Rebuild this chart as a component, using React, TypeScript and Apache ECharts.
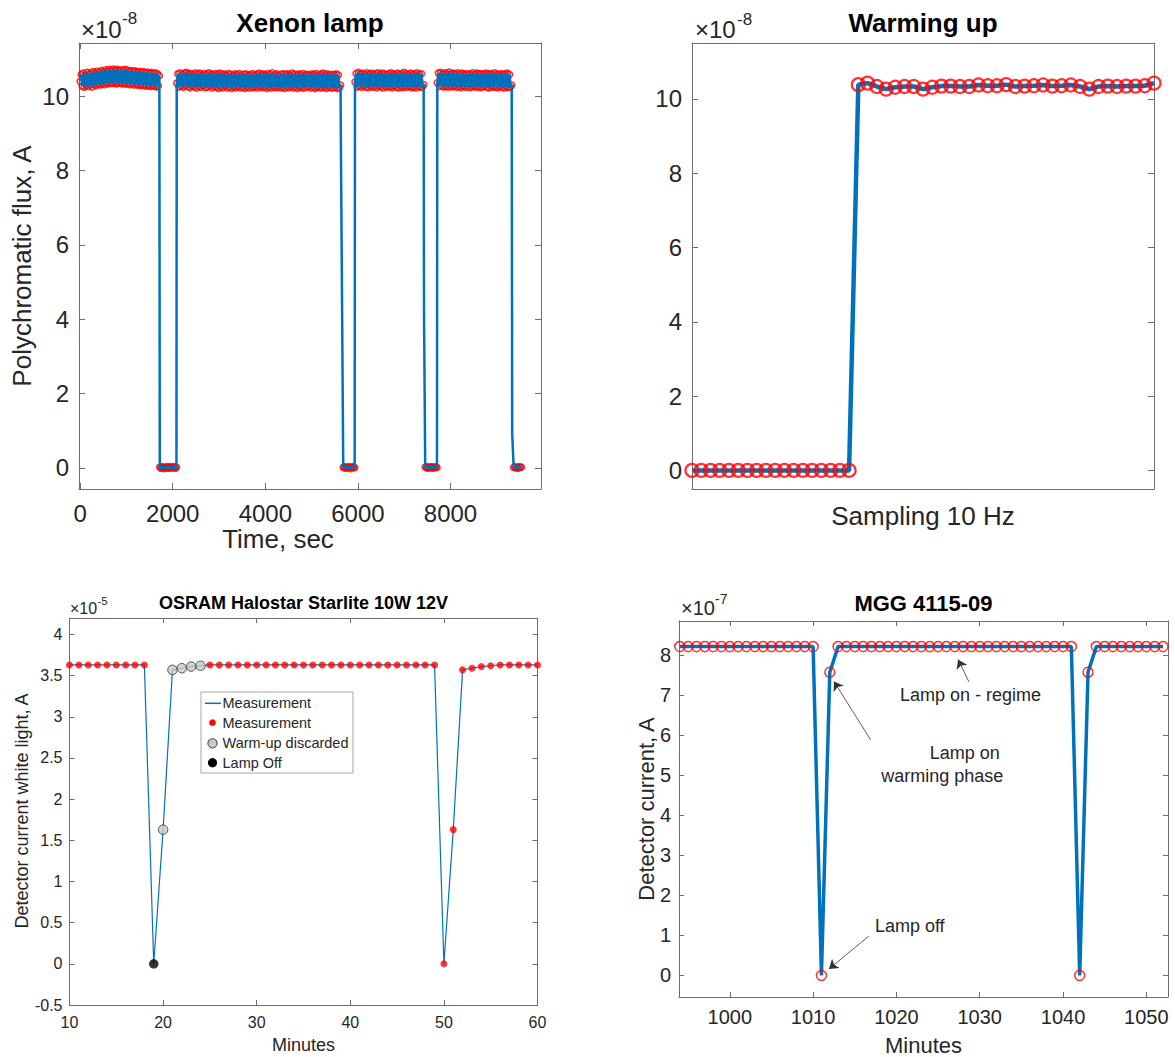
import React, { useEffect, useRef } from 'react';
import * as echarts from 'echarts';

const FONT = '"Liberation Sans", Arial, Helvetica, sans-serif';
const BLUE = '#0072BD';
const RED = '#FF0000';
const AX = '#6e6e6e';
const TXT = '#262626';

// ---------- Panel 1: Xenon lamp (time in s, flux in 1e-8 A) ----------
const xenonOnStart = [0, 2086, 5937, 7715];
const xenonOnEnd = [1711, 5625, 7420, 9322];
const xenonOn1 = [
  10.40, 10.58, 10.27, 10.62, 10.24, 10.56, 10.29, 10.64, 10.26, 10.60,
  10.30, 10.63, 10.25, 10.66, 10.31, 10.61, 10.28, 10.67, 10.32, 10.64,
  10.30, 10.69, 10.34, 10.66, 10.31, 10.71, 10.35, 10.68, 10.33, 10.72,
  10.36, 10.69, 10.34, 10.73, 10.37, 10.70, 10.33, 10.72, 10.35, 10.68,
  10.36, 10.71, 10.33, 10.69, 10.35, 10.72, 10.32, 10.70, 10.34, 10.67,
  10.31, 10.69, 10.33, 10.66, 10.30, 10.68, 10.32, 10.65, 10.29, 10.67,
  10.31, 10.64, 10.28, 10.66, 10.30, 10.63, 10.27, 10.65, 10.29, 10.62,
  10.26, 10.64, 10.28, 10.61, 10.27, 10.63, 10.25, 10.60, 10.28, 10.55,
];
const xenonOn2 = [
  10.35, 10.60, 10.25, 10.63, 10.27, 10.59, 10.24, 10.62, 10.28, 10.64,
  10.26, 10.60, 10.23, 10.61, 10.27, 10.58, 10.25, 10.63, 10.22, 10.60,
  10.26, 10.62, 10.24, 10.57, 10.28, 10.61, 10.23, 10.59, 10.25, 10.63,
  10.27, 10.60, 10.22, 10.58, 10.26, 10.61, 10.24, 10.59, 10.21, 10.62,
  10.25, 10.58, 10.23, 10.60, 10.27, 10.57, 10.22, 10.61, 10.24, 10.59,
  10.21, 10.56, 10.25, 10.60, 10.23, 10.58, 10.26, 10.61, 10.22, 10.57,
  10.24, 10.59, 10.21, 10.60, 10.25, 10.56, 10.22, 10.58, 10.24, 10.61,
  10.23, 10.57, 10.25, 10.59, 10.22, 10.62, 10.26, 10.58, 10.23, 10.60,
  10.25, 10.57, 10.21, 10.61, 10.24, 10.59, 10.22, 10.63, 10.26, 10.58,
  10.23, 10.60, 10.25, 10.56, 10.22, 10.59, 10.24, 10.61, 10.21, 10.58,
  10.25, 10.60, 10.23, 10.57, 10.26, 10.62, 10.22, 10.59, 10.24, 10.57,
  10.21, 10.60, 10.25, 10.58, 10.23, 10.61, 10.22, 10.57, 10.24, 10.59,
  10.26, 10.56, 10.22, 10.60, 10.24, 10.58, 10.21, 10.61, 10.25, 10.57,
  10.23, 10.59, 10.22, 10.62, 10.24, 10.58, 10.21, 10.60, 10.25, 10.57,
  10.23, 10.59, 10.22, 10.58, 10.24, 10.60, 10.21, 10.57, 10.23, 10.30,
];
const xenonOn3 = [
  10.38, 10.61, 10.25, 10.64, 10.27, 10.60, 10.24, 10.62, 10.28, 10.59,
  10.25, 10.63, 10.23, 10.60, 10.27, 10.62, 10.24, 10.58, 10.26, 10.61,
  10.23, 10.63, 10.27, 10.59, 10.25, 10.62, 10.22, 10.60, 10.26, 10.58,
  10.24, 10.61, 10.26, 10.63, 10.23, 10.60, 10.27, 10.58, 10.24, 10.62,
  10.22, 10.59, 10.25, 10.61, 10.23, 10.64, 10.26, 10.60, 10.24, 10.58,
  10.27, 10.62, 10.23, 10.59, 10.25, 10.61, 10.22, 10.63, 10.26, 10.59,
  10.24, 10.60, 10.25, 10.31,
];
const xenonOn4 = [
  10.36, 10.62, 10.26, 10.64, 10.28, 10.60, 10.25, 10.63, 10.27, 10.61,
  10.24, 10.65, 10.28, 10.60, 10.25, 10.62, 10.27, 10.59, 10.24, 10.63,
  10.26, 10.60, 10.23, 10.62, 10.27, 10.58, 10.24, 10.61, 10.26, 10.59,
  10.23, 10.60, 10.25, 10.63, 10.27, 10.59, 10.24, 10.62, 10.26, 10.60,
  10.23, 10.61, 10.25, 10.58, 10.27, 10.62, 10.24, 10.60, 10.22, 10.61,
  10.26, 10.59, 10.24, 10.63, 10.25, 10.60, 10.23, 10.58, 10.26, 10.61,
  10.24, 10.59, 10.22, 10.60, 10.25, 10.62, 10.23, 10.58, 10.25, 10.30,
];
const xenonOn = [xenonOn1, xenonOn2, xenonOn3, xenonOn4];
const xenonDropTime: (number | null)[] = [null, 5630, 7428, 9333];
const xenonDropValue: (number | null)[] = [null, 9.17, 4.15, 0.9];
const xenonOffStart = [1720, 5683, 7454, 9365];
const xenonOffEnd = [2080, 5930, 7708, 9530];
const xenonOff1 = [0.02, -0.01, 0.03, 0.01, -0.02, 0.02, 0.0, 0.03, -0.01, 0.01, 0.03, -0.01, 0.02, 0.0, 0.03, 0.01, -0.01, 0.02];
const xenonOff2 = [0.01, 0.03, -0.01, 0.02, 0.0, 0.03, 0.01, -0.02, 0.02, 0.03, 0.0, 0.01];
const xenonOff3 = [0.02, 0.0, 0.03, -0.01, 0.02, 0.01, 0.03, -0.01, 0.02, 0.0, 0.03, 0.01];
const xenonOff4 = [0.01, 0.03, 0.0, 0.02, -0.01, 0.03, 0.01, 0.02];
const xenonOff = [xenonOff1, xenonOff2, xenonOff3, xenonOff4];

// ---------- Panel 2: Warming up (sample index, flux in 1e-8 A) ----------
const warmFlux = [
  0, 0, 0, 0, 0, 0, 0, 0, 0, 0, 0, 0, 0, 0, 0, 0, 0, 0,
  10.38, 10.42, 10.33, 10.26, 10.31, 10.33, 10.33, 10.26, 10.31, 10.34, 10.34,
  10.33, 10.33, 10.37, 10.35, 10.35, 10.38, 10.33, 10.34, 10.35, 10.37, 10.34,
  10.35, 10.37, 10.33, 10.26, 10.33, 10.34, 10.33, 10.34, 10.34, 10.35, 10.42,
];

// ---------- Panel 3: OSRAM Halostar (minutes, current in 1e-5 A) ----------
const osramMinutes = [10, 11, 12, 13, 14, 15, 16, 17, 18, 19, 20, 21, 22, 23, 24, 25, 26, 27, 28, 29, 30, 31, 32, 33, 34, 35, 36, 37, 38, 39, 40, 41, 42, 43, 44, 45, 46, 47, 48, 49, 50, 51, 52, 53, 54, 55, 56, 57, 58, 59, 60];
const osramCurrent = [3.63, 3.63, 3.63, 3.63, 3.63, 3.63, 3.63, 3.63, 3.63, 0, 1.63, 3.57, 3.59, 3.61, 3.62, 3.63, 3.63, 3.63, 3.63, 3.63, 3.63, 3.63, 3.63, 3.63, 3.63, 3.63, 3.63, 3.63, 3.63, 3.63, 3.63, 3.63, 3.63, 3.63, 3.63, 3.63, 3.63, 3.63, 3.63, 3.63, 0, 1.63, 3.57, 3.59, 3.61, 3.62, 3.63, 3.63, 3.63, 3.63, 3.63];
const osramWarmupMinutes = [20, 21, 22, 23, 24];
const osramLampOffMinutes = [19];
const osramLegend = ['Measurement', 'Measurement', 'Warm-up discarded', 'Lamp Off'];

// ---------- Panel 4: MGG 4115-09 (minutes, current in 1e-7 A) ----------
const mggMinutes = [994, 995, 996, 997, 998, 999, 1000, 1001, 1002, 1003, 1004, 1005, 1006, 1007, 1008, 1009, 1010, 1011, 1012, 1013, 1014, 1015, 1016, 1017, 1018, 1019, 1020, 1021, 1022, 1023, 1024, 1025, 1026, 1027, 1028, 1029, 1030, 1031, 1032, 1033, 1034, 1035, 1036, 1037, 1038, 1039, 1040, 1041, 1042, 1043, 1044, 1045, 1046, 1047, 1048, 1049, 1050, 1051, 1052];
const mggCurrent = [8.22, 8.22, 8.22, 8.22, 8.22, 8.22, 8.22, 8.22, 8.22, 8.22, 8.22, 8.22, 8.22, 8.22, 8.22, 8.22, 8.22, 0, 7.58, 8.22, 8.22, 8.22, 8.22, 8.22, 8.22, 8.22, 8.22, 8.22, 8.22, 8.22, 8.22, 8.22, 8.22, 8.22, 8.22, 8.22, 8.22, 8.22, 8.22, 8.22, 8.22, 8.22, 8.22, 8.22, 8.22, 8.22, 8.22, 8.22, 0, 7.58, 8.22, 8.22, 8.22, 8.22, 8.22, 8.22, 8.22, 8.22, 8.22];
const mggNoteTexts = ['Lamp on - regime', 'Lamp on', 'warming phase', 'Lamp off'];
const mggNoteAt = [[1028.9, 7.0], [1028.2, 5.56], [1025.5, 4.98], [1021.6, 1.24]];
const mggArrowFrom = [[1028.7, 7.34], [1016.9, 5.89], [1016.7, 0.985]];
const mggArrowTo = [[1027.4, 7.9], [1012.5, 7.35], [1011.9, 0.16]];

// ---------- build series data ----------
function spread(start: number, end: number, vals: number[]) {
  const n = vals.length;
  return vals.map((v, i) => [n === 1 ? start : start + ((end - start) * i) / (n - 1), v]);
}
const xenonData: number[][] = [];
const xenonMarks: number[][] = [];
for (let k = 0; k < xenonOn.length; k++) {
  const on = spread(xenonOnStart[k], xenonOnEnd[k], xenonOn[k]);
  const off = spread(xenonOffStart[k], xenonOffEnd[k], xenonOff[k]);
  xenonData.push(...on);
  xenonMarks.push(...on);
  if (xenonDropTime[k] !== null) xenonData.push([xenonDropTime[k] as number, xenonDropValue[k] as number]);
  xenonData.push(...off);
  xenonMarks.push(...off);
}
const warmData = warmFlux.map((v, i) => [i, v]);
const osramData = osramMinutes.map((m, i) => [m, osramCurrent[i]]);
const osramRed = osramData.filter((d) => !osramWarmupMinutes.includes(d[0]) && !osramLampOffMinutes.includes(d[0]));
const osramGray = osramData.filter((d) => osramWarmupMinutes.includes(d[0]));
const osramBlack = osramData.filter((d) => osramLampOffMinutes.includes(d[0]));
const mggData = mggMinutes.map((m, i) => [m, mggCurrent[i]]);

// ---------- axes ----------
type AxOpt = {
  grid: number; pos: string; min: number; max: number; interval?: number; split?: number;
  labels?: boolean; fs?: number; margin?: number; showMin?: boolean; showMax?: boolean;
  ticks?: boolean; tickLen?: number;
};
function valAxis(o: AxOpt) {
  const a: any = {
    type: 'value',
    gridIndex: o.grid,
    position: o.pos,
    min: o.min,
    max: o.max,
    splitNumber: o.split ?? 5,
    axisLine: { show: true, onZero: false, lineStyle: { color: AX, width: 1 } },
    axisTick: { show: o.ticks !== false, inside: true, length: o.tickLen ?? 6, lineStyle: { color: AX, width: 1 } },
    axisLabel: o.labels
      ? {
          show: true,
          fontSize: o.fs,
          fontFamily: FONT,
          color: TXT,
          margin: o.margin,
          showMinLabel: o.showMin ?? false,
          showMaxLabel: o.showMax ?? false,
          formatter: (v: number) => String(Math.round(v * 1000) / 1000),
        }
      : { show: false },
    splitLine: { show: false },
  };
  if (o.interval) a.interval = o.interval;
  return a;
}

const xAxes = [
  valAxis({ grid: 0, pos: 'bottom', min: -25, max: 9955, labels: true, fs: 24, margin: 12 }),
  valAxis({ grid: 0, pos: 'top', min: -25, max: 9955 }),
  valAxis({ grid: 1, pos: 'bottom', min: 0, max: 50, ticks: false }),
  valAxis({ grid: 1, pos: 'top', min: 0, max: 50, ticks: false }),
  valAxis({ grid: 2, pos: 'bottom', min: 10, max: 60, interval: 10, labels: true, fs: 16, margin: 9, showMin: true, showMax: true, tickLen: 5 }),
  valAxis({ grid: 2, pos: 'top', min: 10, max: 60, interval: 10, tickLen: 5 }),
  valAxis({ grid: 3, pos: 'bottom', min: 993.9, max: 1052.6, labels: true, fs: 20, margin: 10, tickLen: 5 }),
  valAxis({ grid: 3, pos: 'top', min: 993.9, max: 1052.6, tickLen: 5 }),
];
const yAxes = [
  valAxis({ grid: 0, pos: 'left', min: -0.57, max: 11.43, labels: true, fs: 24, margin: 10 }),
  valAxis({ grid: 0, pos: 'right', min: -0.57, max: 11.43 }),
  valAxis({ grid: 1, pos: 'left', min: -0.5, max: 11.5, labels: true, fs: 24, margin: 10 }),
  valAxis({ grid: 1, pos: 'right', min: -0.5, max: 11.5 }),
  valAxis({ grid: 2, pos: 'left', min: -0.5, max: 4.2, interval: 0.5, labels: true, fs: 16, margin: 7, showMin: true, tickLen: 5 }),
  valAxis({ grid: 2, pos: 'right', min: -0.5, max: 4.2, interval: 0.5, tickLen: 5 }),
  valAxis({ grid: 3, pos: 'left', min: -0.54, max: 8.86, split: 9, labels: true, fs: 20, margin: 8, tickLen: 5 }),
  valAxis({ grid: 3, pos: 'right', min: -0.54, max: 8.86, split: 9, tickLen: 5 }),
];

// ---------- graphic helpers ----------
function txt(text: string, x: number, y: number, size: number, extra: any = {}) {
  const align = extra.align ?? 'center';
  return {
    type: 'text',
    x,
    y,
    rotation: extra.rotation ?? 0,
    silent: true,
    z: 50,
    style: {
      text,
      fontSize: size,
      fontFamily: FONT,
      fontWeight: extra.bold ? 'bold' : 'normal',
      fill: extra.fill ?? TXT,
      align,
      textAlign: align,
      verticalAlign: 'middle',
      textVerticalAlign: 'middle',
    },
  };
}

const graphics: any[] = [
  // titles
  txt('Xenon lamp', 310, 23, 26, { bold: true, fill: '#000' }),
  txt('Warming up', 923, 23, 26, { bold: true, fill: '#000' }),
  txt('OSRAM Halostar Starlite 10W 12V', 303.5, 603, 18, { bold: true, fill: '#000' }),
  txt('MGG 4115-09', 923.5, 603, 22, { bold: true, fill: '#000' }),
  // exponents
  txt('×10', 81, 29, 24, { align: 'left' }),
  txt('-8', 122, 18, 17, { align: 'left' }),
  txt('×10', 695, 29, 24, { align: 'left' }),
  txt('-8', 737, 19, 17, { align: 'left' }),
  txt('×10', 70, 608, 16, { align: 'left' }),
  txt('-5', 97.5, 601, 11.5, { align: 'left' }),
  txt('×10', 681, 608, 20, { align: 'left' }),
  txt('-7', 715, 599, 14, { align: 'left' }),
  // axis names
  txt('Polychromatic flux, A', 22, 266, 26, { rotation: Math.PI / 2 }),
  txt('Time, sec', 278, 539, 26),
  txt('Sampling 10 Hz', 923, 516, 26),
  txt('Detector current white light, A', 22, 811, 18, { rotation: Math.PI / 2 }),
  txt('Minutes', 303.5, 1045, 18),
  txt('Detector current, A', 646, 809, 22, { rotation: Math.PI / 2 }),
  txt('Minutes', 923.5, 1045, 22),
  // legend of panel 3
  {
    type: 'rect',
    silent: true,
    z: 40,
    shape: { x: 201, y: 692, width: 152, height: 81 },
    style: { fill: '#ffffff', stroke: '#a8a8a8', lineWidth: 1 },
  },
  {
    type: 'line',
    silent: true,
    z: 50,
    shape: { x1: 205, y1: 703.3, x2: 221, y2: 703.3 },
    style: { stroke: BLUE, lineWidth: 1.5 },
  },
  { type: 'circle', silent: true, z: 50, shape: { cx: 212.5, cy: 722.7, r: 3.3 }, style: { fill: RED } },
  { type: 'circle', silent: true, z: 50, shape: { cx: 212.5, cy: 743.3, r: 4.6 }, style: { fill: '#c8c8c8', stroke: '#333', lineWidth: 1 } },
  { type: 'circle', silent: true, z: 50, shape: { cx: 212.5, cy: 762.7, r: 4.6 }, style: { fill: '#000' } },
  txt(osramLegend[0], 222.5, 703.3, 14.5, { align: 'left' }),
  txt(osramLegend[1], 222.5, 722.7, 14.5, { align: 'left' }),
  txt(osramLegend[2], 222.5, 743.3, 14.5, { align: 'left' }),
  txt(osramLegend[3], 222.5, 762.7, 14.5, { align: 'left' }),
];

const ring = (size: number, width: number) => ({
  symbol: 'circle',
  symbolSize: size,
  itemStyle: { color: 'rgba(0,0,0,0)', borderColor: RED, borderWidth: width },
});

const option: any = {
  animation: false,
  backgroundColor: '#ffffff',
  textStyle: { fontFamily: FONT },
  grid: [
    { left: 79, top: 43, width: 462, height: 446 },
    { left: 692, top: 43, width: 462, height: 446 },
    { left: 69.5, top: 618, width: 468, height: 387 },
    { left: 679, top: 621, width: 489, height: 376 },
  ],
  xAxis: xAxes,
  yAxis: yAxes,
  graphic: graphics,
  series: [
    // Panel 1
    { type: 'scatter', xAxisIndex: 0, yAxisIndex: 0, data: xenonMarks, z: 2, silent: true, large: false, ...ring(6, 1.6) },
    {
      type: 'line', xAxisIndex: 0, yAxisIndex: 0, data: xenonData, z: 3, silent: true,
      showSymbol: false, symbol: 'none', lineStyle: { color: BLUE, width: 2.5 },
    },
    // Panel 2
    {
      type: 'line', xAxisIndex: 2, yAxisIndex: 2, data: warmData, z: 2, silent: true,
      showSymbol: false, symbol: 'none', lineStyle: { color: BLUE, width: 4.5 },
    },
    { type: 'scatter', xAxisIndex: 2, yAxisIndex: 2, data: warmData, z: 3, silent: true, ...ring(13, 2.2) },
    // Panel 3
    {
      type: 'line', xAxisIndex: 4, yAxisIndex: 4, data: osramData, z: 2, silent: true,
      showSymbol: false, symbol: 'none', lineStyle: { color: BLUE, width: 1.2 },
    },
    { type: 'scatter', xAxisIndex: 4, yAxisIndex: 4, data: osramRed, z: 3, silent: true, symbol: 'circle', symbolSize: 7, itemStyle: { color: RED } },
    {
      type: 'scatter', xAxisIndex: 4, yAxisIndex: 4, data: osramGray, z: 3, silent: true, symbol: 'circle', symbolSize: 9.5,
      itemStyle: { color: '#c8c8c8', borderColor: '#333', borderWidth: 1 },
    },
    { type: 'scatter', xAxisIndex: 4, yAxisIndex: 4, data: osramBlack, z: 3, silent: true, symbol: 'circle', symbolSize: 9.5, itemStyle: { color: '#000' } },
    // Panel 4
    {
      type: 'line', xAxisIndex: 6, yAxisIndex: 6, data: mggData, z: 2, silent: true,
      showSymbol: false, symbol: 'none', lineStyle: { color: BLUE, width: 3.5 },
      markLine: {
        silent: true,
        symbol: ['none', 'arrow'],
        symbolSize: 9,
        label: { show: false },
        lineStyle: { color: '#333', width: 0.8, type: 'solid' },
        data: mggArrowFrom.map((f, i) => [{ coord: f }, { coord: mggArrowTo[i] }]),
      },
      markPoint: {
        silent: true,
        symbol: 'circle',
        symbolSize: 0,
        data: mggNoteAt.map((c, i) => ({
          coord: c,
          label: { show: true, position: 'inside', formatter: mggNoteTexts[i], color: TXT, fontSize: 18, fontFamily: FONT },
        })),
      },
    },
    { type: 'scatter', xAxisIndex: 6, yAxisIndex: 6, data: mggData, z: 3, silent: true, ...ring(10, 1.5) },
  ],
};

export default function App() {
  const ref = useRef<HTMLDivElement>(null);
  useEffect(() => {
    if (!ref.current) return;
    const chart = echarts.init(ref.current, null, { renderer: 'svg' });
    chart.setOption(option);
    return () => chart.dispose();
  }, []);
  return (
    <div
      ref={ref}
      style={{ position: 'absolute', left: 0, top: 0, width: 1175, height: 1057, background: '#fff' }}
    />
  );
}
